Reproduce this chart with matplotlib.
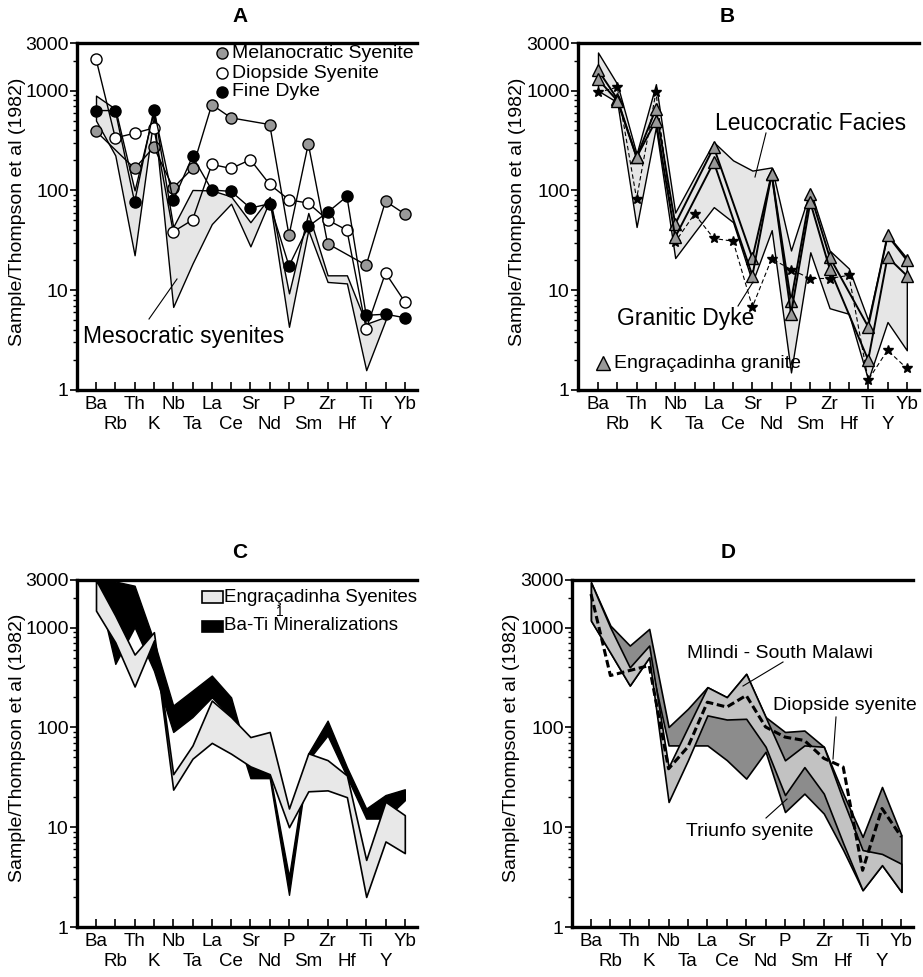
import numpy as np
import matplotlib
matplotlib.use('Agg')
import matplotlib.pyplot as plt
from matplotlib.lines import Line2D
from matplotlib.patches import Rectangle
from matplotlib.ticker import FixedLocator, NullFormatter

plt.rcParams['font.family'] = ['Liberation Sans', 'DejaVu Sans']

nan = np.nan
elements = ['Ba', 'Rb', 'Th', 'K', 'Nb', 'Ta', 'La', 'Ce', 'Sr', 'Nd',
            'P', 'Sm', 'Zr', 'Hf', 'Ti', 'Y', 'Yb']
yticks = [1, 10, 100, 1000, 3000]
ytick_labels = ['1', '10', '100', '1000', '3000']

# ---------------- Panel A ----------------
melanocratic = [392, nan, 166, 271, 106, 166, 724, 533, nan, 457, 35.5, 293, 29.3, nan, 17.8, 78, 58]
diopside_A = [2080, 336, 374, 423, 38.5, 50.6, 182, 166, 203, 115, 80.5, 74.6, 50.6, 40, 4.1, 14.9, 7.65]
fine_dyke = [631, 631, 76.5, 646, 79.4, 219, 101, 97.7, 66.5, 73.6, 17.5, 43.6, 60.3, 87, 5.6, 5.75, 5.3]
meso_upper = [891, 656, 100, 631, 43, 101, 100, 87, 48, 86, 9.3, 59.4, 14.1, 14.1, 4.6, 5.4, nan]
meso_lower = [501, 224, 22.4, 562, 6.8, 18.5, 46, 73.6, 27.5, 79, 4.3, 40, 12.1, 11.7, 1.58, 5.0, nan]

# ---------------- Panel B ----------------
granite_1 = [1610, 826, 215, 656, 46, nan, 271, nan, 21, 146, 7.8, 92.7, 21.5, nan, 4.3, 35.5, 20]
granite_2 = [1300, 794, 215, 501, 34, nan, 192, nan, 14, 146, 5.8, 76, 16.5, nan, 2.0, 21.5, 14]
leuco_upper = [2410, 1160, 232, 1160, 60, 136, 304, 200, 158, 170, 25, 100, 25, 16.5, 5, 36, 21]
leuco_lower = [1000, 764, 43, 430, 21, 38, 68, 48, 12, 40, 1.5, 24, 6.6, 5.8, 1.26, 4.8, 2.5]
granitic_dyke = [962, 1080, 82.5, 962, 30.4, 58, 33, 31, 6.8, 20.7, 16.1, 13.1, 13.1, 14.1, 1.26, 2.5, 1.65]

# ---------------- Panel C ----------------
syen_upper = [3000, 1320, 537, 900, 34, 66, 186, 127, 80, 90, 15.4, 55, 47, 33, 4.7, 18, 13.2]
syen_lower = [1480, 712, 257, 741, 23.8, 48.6, 70, 54.5, 40.7, 34, 10, 22.9, 23.4, 20, 2.0, 7.2, 5.5]
bati_upper = [3000, 2900, 2630, 740, 166, 234, 331, 200, 41, 35, 3.2, 55, 117, 40, 15.4, 21, 24]
bati_lower = [2900, 433, 1010, 370, 90, 127, 200, 127, 31, 31, 2.1, 47, 83, 32, 12.2, 12.2, 18.6]

# ---------------- Panel D ----------------
dark_upper = [2840, 1047, 661, 970, 101, 154, 253, 201, 344, 127, 90, 93, 64, 21.7, 8.0, 25.3, 8.3]
dark_lower = [1175, 559, 263, 504, 66, 66, 66, 47, 30.7, 57, 14.2, 21.7, 13.7, 5.9, 2.34, 4.17, 2.25]
light_upper = [2840, 1000, 400, 661, 40, 101, 253, 201, 344, 127, 46.8, 66, 64, 18.6, 5.9, 5.4, 4.3]
light_lower = [1175, 559, 263, 504, 17.9, 47, 132, 120, 122, 64, 21, 40, 21.7, 6.9, 2.34, 4.17, 2.25]
diopside_D = [2170, 331, 372, 417, 38.5, 64, 179, 160, 209, 101, 80, 74, 49, 40, 3.7, 15.4, 8.0]

W, H = 923, 977
fig = plt.figure(figsize=(W / 100, H / 100), dpi=100)

def fx(x):
    return x / W

def fy(y):
    return 1 - y / H

def make_axes(left, right, top, bottom, ba_px, unit):
    ax = fig.add_axes([fx(left), fy(bottom), (right - left) / W, (bottom - top) / H])
    ax.set_yscale('log')
    ax.set_ylim(1, 3000)
    ax.set_xlim((left - ba_px) / unit, (right - ba_px) / unit)
    ax.yaxis.set_major_locator(FixedLocator(yticks))
    ax.set_yticklabels(ytick_labels)
    minors = [m * 10 ** k for k in range(3) for m in range(2, 10)] + [2000]
    ax.yaxis.set_minor_locator(FixedLocator(minors))
    ax.yaxis.set_minor_formatter(NullFormatter())
    idx = np.arange(len(elements))
    ax.set_xticks(idx[::2])
    ax.set_xticklabels(elements[::2])
    ax.set_xticks(idx[1::2], minor=True)
    ax.set_xticklabels(elements[1::2], minor=True)
    ax.tick_params(axis='y', which='major', direction='out', length=5, width=1.2,
                   labelsize=14, pad=1)
    ax.tick_params(axis='y', which='minor', direction='out', length=3, width=1)
    ax.tick_params(axis='x', which='major', direction='in', length=6, width=1.2,
                   labelsize=13.5, pad=4)
    ax.tick_params(axis='x', which='minor', direction='in', length=6, width=1.2,
                   labelsize=13.5, pad=19)
    for s in ['left', 'bottom', 'top']:
        ax.spines[s].set_linewidth(2.4)
    ax.spines['right'].set_visible(False)
    return ax

def valid(vals):
    v = np.array(vals, dtype=float)
    x = np.arange(len(v))
    m = ~np.isnan(v)
    return x[m], v[m]

def band(ax, upper, lower, color, lw=1.0, z=1):
    u = np.array(upper, dtype=float)
    l = np.array(lower, dtype=float)
    x = np.arange(len(u))
    m = ~(np.isnan(u) | np.isnan(l))
    ax.fill_between(x[m], l[m], u[m], facecolor=color, edgecolor='black',
                    linewidth=lw, zorder=z)

def ftext(x, y, s, **kw):
    kw.setdefault('fontsize', 14)
    kw.setdefault('va', 'center')
    fig.text(fx(x), fy(y), s, **kw)

def fline(x1, y1, x2, y2, lw=0.8):
    fig.add_artist(Line2D([fx(x1), fx(x2)], [fy(y1), fy(y2)], color='black', lw=lw))

def fmarker(x, y, **kw):
    fig.add_artist(Line2D([fx(x)], [fy(y)], linestyle='none', **kw))

# ---------- Panel A ----------
axA = make_axes(77, 417, 43, 390, 96, 19.3)
band(axA, meso_upper, meso_lower, '#e6e6e6', lw=1.0, z=1)
for vals, fc in [(melanocratic, '#999999'), (diopside_A, 'white'), (fine_dyke, 'black')]:
    x, v = valid(vals)
    axA.plot(x, v, color='black', lw=1.0, marker='o', ms=8, mfc=fc, mec='black',
             mew=1.0, zorder=3)
ftext(240, 17, 'A', fontsize=15, fontweight='bold', ha='center')
ftext(18, 212, 'Sample/Thompson et al (1982)', rotation=90, ha='center')
ftext(83, 336, 'Mesocratic syenites', fontsize=16.5, ha='left')
fline(149, 319, 177, 279)
for y, fc, s in [(53, '#999999', 'Melanocratic Syenite'), (73, 'white', 'Diopside Syenite'),
                 (92, 'black', 'Fine Dyke')]:
    fmarker(222, y, marker='o', ms=8, mfc=fc, mec='black', mew=1.0)
    ftext(232, y, s, ha='left')

# ---------- Panel B ----------
axB = make_axes(578, 919, 43, 390, 598, 19.3)
band(axB, leuco_upper, leuco_lower, '#e6e6e6', lw=1.0, z=1)
x, v = valid(granitic_dyke)
axB.plot(x, v, color='black', lw=0.8, ls=(0, (4, 2.5)), marker='*', ms=7,
         mfc='black', mec='black', zorder=2)
for vals in [granite_1, granite_2]:
    x, v = valid(vals)
    axB.plot(x, v, color='black', lw=1.4, marker='^', ms=9, mfc='#999999',
             mec='black', mew=1.0, zorder=3)
ftext(727, 17, 'B', fontsize=15, fontweight='bold', ha='center')
ftext(518, 212, 'Sample/Thompson et al (1982)', rotation=90, ha='center')
ftext(715, 124, 'Leucocratic Facies', fontsize=16.5, ha='left')
fline(766, 133, 755, 177)
ftext(617, 319, 'Granitic Dyke', fontsize=16.5, ha='left')
fline(738, 306, 753, 282)
fmarker(603, 363, marker='^', ms=10, mfc='#999999', mec='black', mew=1.0)
ftext(614, 363, 'Engraçadinha granite', ha='left')

# ---------- Panel C ----------
axC = make_axes(77, 417, 580, 927, 96, 19.3)
band(axC, bati_upper, bati_lower, 'black', lw=1.0, z=1)
band(axC, syen_upper, syen_lower, '#e8e8e8', lw=1.2, z=2)
ftext(240, 553, 'C', fontsize=15, fontweight='bold', ha='center')
ftext(18, 748, 'Sample/Thompson et al (1982)', rotation=90, ha='center')
fig.add_artist(Rectangle((fx(202), fy(603)), 21 / W, 12 / H, transform=fig.transFigure,
                         facecolor='#e8e8e8', edgecolor='black', lw=1.2))
fig.add_artist(Rectangle((fx(202), fy(632)), 21 / W, 11 / H, transform=fig.transFigure,
                         facecolor='black', edgecolor='black', lw=1.2))
ftext(224, 597, 'Engraçadinha Syenites', fontsize=13.5, ha='left')
ftext(224, 626, 'Ba-Ti Mineralizations', fontsize=13.5, ha='left')
ftext(280, 612, '1', fontsize=10, ha='center')

# ---------- Panel D ----------
axD = make_axes(572, 913, 580, 927, 591, 19.4)
band(axD, dark_upper, dark_lower, '#8c8c8c', lw=1.2, z=1)
band(axD, light_upper, light_lower, '#c2c2c2', lw=1.2, z=2)
axD.plot(np.arange(len(diopside_D)), diopside_D, color='black', lw=2.2,
         ls=(0, (2.5, 1.2)), zorder=3)
ftext(728, 553, 'D', fontsize=15, fontweight='bold', ha='center')
ftext(512, 748, 'Sample/Thompson et al (1982)', rotation=90, ha='center')
ftext(687, 653, 'Mlindi - South Malawi', ha='left')
fline(783, 662, 743, 686)
ftext(773, 706, 'Diopside syenite', ha='left')
fline(836, 717, 833, 759)
ftext(686, 832, 'Triunfo syenite', ha='left')
fline(766, 818, 787, 799)

fig.savefig('out.png', dpi=100)
